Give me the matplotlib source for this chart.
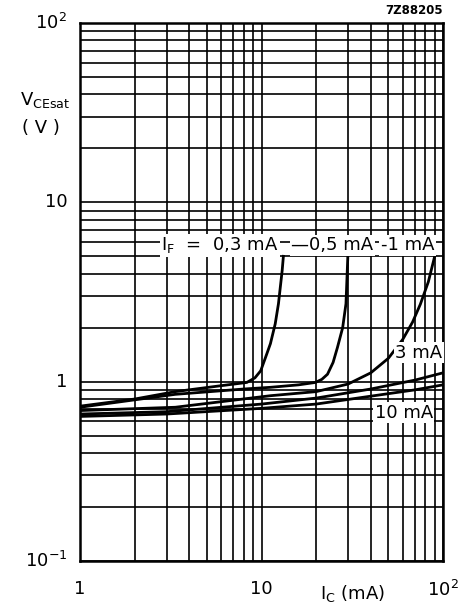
import numpy as np
import matplotlib
matplotlib.use("Agg")
import matplotlib.pyplot as plt

plt.rcParams['font.family'] = ['DejaVu Sans']
plt.rcParams['mathtext.fontset'] = 'dejavusans'

# V_CEsat vs I_C, for several I_F
ic_03 = [1, 2, 3.35, 6, 8.3, 9.2, 9.9, 10.7, 11.2, 11.9, 12.4, 13.0, 13.2]
vce_03 = [0.73, 0.80, 0.88, 0.95, 0.99, 1.05, 1.15, 1.43, 1.63, 2.1, 2.72, 4.17, 5.0]

ic_05 = [1, 3.35, 8, 11.2, 16, 19.8, 21.5, 23.1, 24.8, 26.2, 28, 29.2, 29.9]
vce_05 = [0.72, 0.85, 0.91, 0.93, 0.96, 0.99, 1.03, 1.10, 1.28, 1.55, 2.0, 2.72, 5.0]

ic_1 = [1, 3.35, 11.2, 20, 30, 40, 50, 60, 68, 75, 83, 90]
vce_1 = [0.69, 0.72, 0.835, 0.88, 0.97, 1.12, 1.35, 1.72, 2.15, 2.7, 3.6, 5.0]

ic_3 = [1, 3, 10, 20, 40, 70, 100]
vce_3 = [0.66, 0.68, 0.75, 0.81, 0.91, 1.02, 1.12]

ic_10 = [1, 3, 10, 20, 40, 70, 100]
vce_10 = [0.64, 0.66, 0.71, 0.75, 0.83, 0.90, 0.96]

curves = [(ic_03, vce_03), (ic_05, vce_05), (ic_1, vce_1), (ic_3, vce_3), (ic_10, vce_10)]

fig = plt.figure(figsize=(4.59, 6.08), dpi=100)
ax = fig.add_axes([80 / 459, 1 - 561 / 608, 363 / 459, 538 / 608])

ax.set_xscale('log')
ax.set_yscale('log')
ax.set_xlim(1, 100)
ax.set_ylim(0.1, 100)

ax.grid(True, which='both', color='black', linewidth=1.2)
ax.tick_params(which='both', length=0, labelleft=False, labelbottom=False)
for s in ax.spines.values():
    s.set_linewidth(1.8)

for x, y in curves:
    ax.plot(x, y, color='black', linewidth=2.0, zorder=3)

# labels inside the plot
box = dict(facecolor='white', edgecolor='none', pad=1.0)
fs = 13
ax.text(2.8, 5.75, r'$\mathregular{I_F}$  =  0,3 mA', fontsize=fs,
        ha='left', va='center', bbox=box, zorder=4)
ax.text(14.6, 5.75, '\u20140,5 mA', fontsize=fs, ha='left', va='center', bbox=box, zorder=4)
ax.text(45.5, 5.75, '-1 mA', fontsize=fs, ha='left', va='center', bbox=box, zorder=4)
ax.text(99, 1.45, '3 mA', fontsize=fs, ha='right', va='center', bbox=box, zorder=4)
ax.text(88, 0.67, '10 mA', fontsize=fs, ha='right', va='center', bbox=box, zorder=4)

# tick labels (drawn as text to match the sheet)
ylabs = [(100, r'$\mathregular{10^2}$'), (10, '10'), (1, '1'), (0.1, r'$\mathregular{10^{-1}}$')]
for v, s in ylabs:
    ax.text(-0.035, np.log10(v) / 3 + 1 / 3, s, transform=ax.transAxes,
            fontsize=fs, ha='right', va='center')
xlabs = [(1, '1'), (10, '10'), (100, r'$\mathregular{10^2}$')]
for v, s in xlabs:
    ax.text(np.log10(v) / 2, -0.035, s, transform=ax.transAxes,
            fontsize=fs, ha='center', va='top')

fig.text(352 / 459, 1 - 594 / 608, r'$\mathregular{I_C}$ (mA)', fontsize=fs,
         ha='center', va='center')
fig.text(20 / 459, 1 - 100 / 608, r'$\mathregular{V_{CEsat}}$', fontsize=fs,
         ha='left', va='center')
fig.text(41 / 459, 1 - 128 / 608, '( V )', fontsize=fs, ha='center', va='center')
fig.text(443 / 459, 1 - 11 / 608, '7Z88205', fontsize=8.5, fontweight='bold',
         ha='right', va='center')

fig.savefig('out.png', dpi=100)
